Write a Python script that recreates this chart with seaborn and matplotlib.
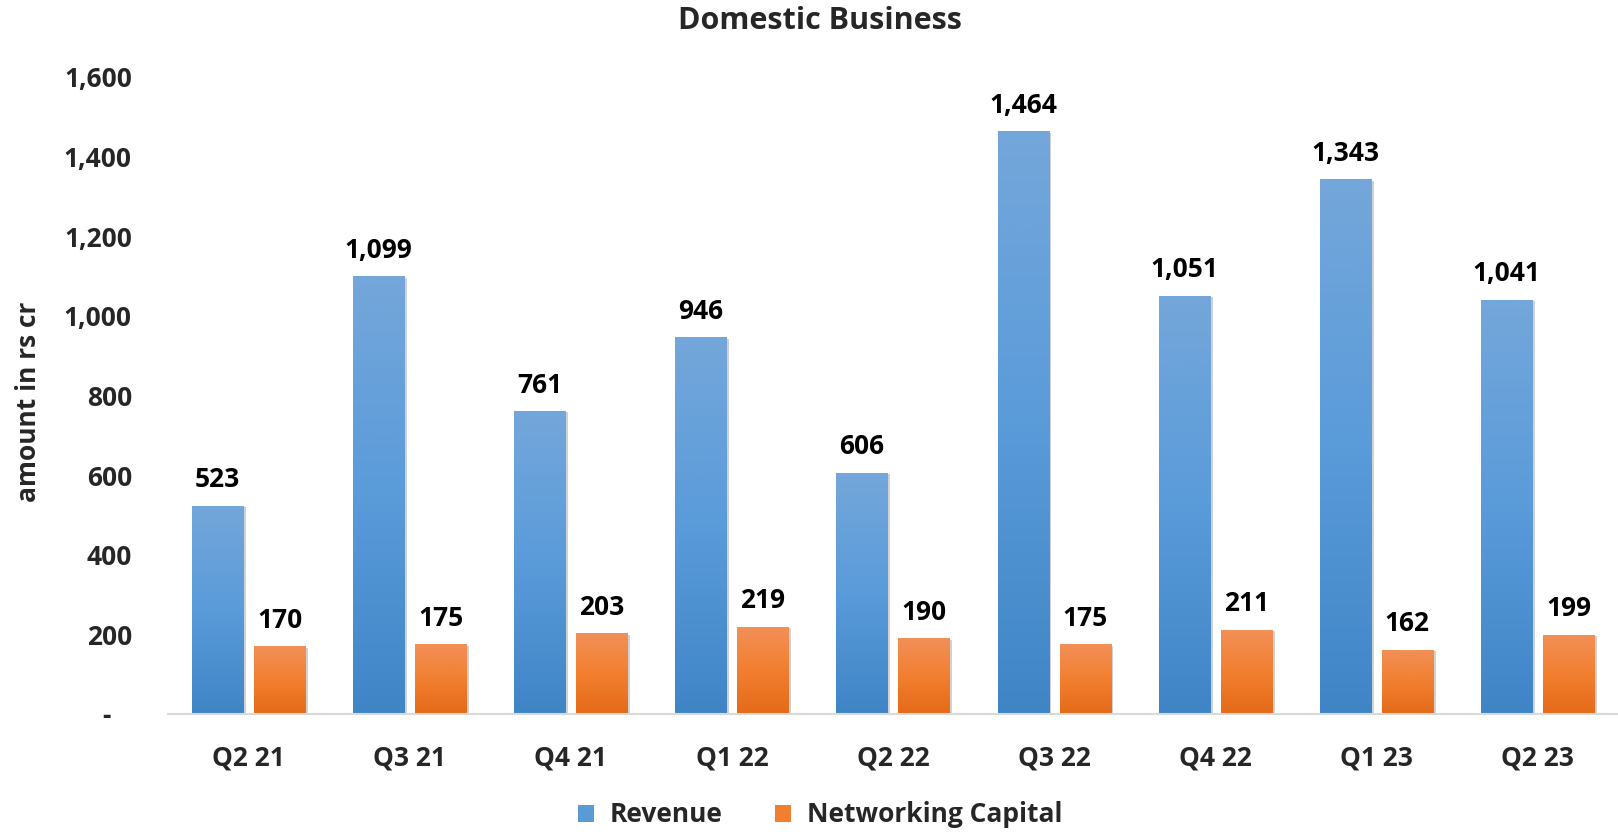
import numpy as np
import pandas as pd
import matplotlib
matplotlib.use("Agg")
import matplotlib.pyplot as plt
import seaborn as sns
from matplotlib.colors import LinearSegmentedColormap
from matplotlib.patches import Patch
import matplotlib.patheffects as pe

# ---------------- data ----------------
quarters = ["Q2 21", "Q3 21", "Q4 21", "Q1 22", "Q2 22", "Q3 22", "Q4 22", "Q1 23", "Q2 23"]
revenue = [523, 1099, 761, 946, 606, 1464, 1051, 1343, 1041]
networking_capital = [170, 175, 203, 219, 190, 175, 211, 162, 199]
series_names = ["Revenue", "Networking Capital"]
yticks = [0, 200, 400, 600, 800, 1000, 1200, 1400, 1600]
ytick_labels = ["-   ", "200", "400", "600", "800", "1,000", "1,200", "1,400", "1,600"]

# ---------------- style ----------------
sns.set_theme(style="white")
plt.rcParams['font.family'] = ['Open Sans', 'DejaVu Sans']
plt.rcParams['font.weight'] = 'bold'
FS = 19
TITLE_FS = 22

blue_mid = "#5B9BD5"
orange_mid = "#F07F2F"
blue_cmap = LinearSegmentedColormap.from_list("b", ["#3F85C6", "#5A9BDA", "#74A7DA"])
orange_cmap = LinearSegmentedColormap.from_list("o", ["#E46A17", "#F27F30", "#F29058"])

df = pd.DataFrame({
    "Quarter": quarters + quarters,
    "Series": [series_names[0]] * len(quarters) + [series_names[1]] * len(quarters),
    "Value": revenue + networking_capital,
})

W, H = 1618, 834
fig = plt.figure(figsize=(W / 100, H / 100), dpi=100)
ax = fig.add_axes([168 / W, 1 - 714 / H, 1 - 168 / W, (714 - 77) / H])

sns.barplot(data=df, x="Quarter", y="Value", hue="Series", order=quarters,
            hue_order=series_names, palette=[blue_mid, orange_mid],
            width=0.77, gap=0.177, saturation=1, legend=False, ax=ax)

# gradient fill + soft shadow for each bar
grad = np.linspace(0, 1, 256).reshape(-1, 1)
for cont, cmap, vals in zip(ax.containers, [blue_cmap, orange_cmap], [revenue, networking_capital]):
    for p in cont.patches:
        p.set_edgecolor("none")
        p.set_path_effects([pe.SimplePatchShadow(offset=(2, -1), shadow_rgbFace="#000000", alpha=0.18),
                            pe.Normal()])
        x0, y0, w, h = p.get_x(), p.get_y(), p.get_width(), p.get_height()
        im = ax.imshow(grad, extent=[x0, x0 + w, y0, y0 + h], origin="lower",
                       cmap=cmap, aspect="auto", zorder=p.get_zorder() + 0.1,
                       interpolation="bilinear")
        im.set_clip_path(p)
    ax.bar_label(cont, labels=[f"{v:,}" for v in vals], padding=9,
                 fontsize=FS, fontweight="bold", color="black")

ax.set_xlim(-0.5, len(quarters) - 0.5)
ax.set_ylim(0, 1600)
ax.set_yticks(yticks)
ax.set_yticklabels(ytick_labels)
ax.tick_params(axis="y", length=0, pad=26, labelsize=FS)
ax.tick_params(axis="x", length=0, pad=22, labelsize=FS)
for lab in ax.get_xticklabels() + ax.get_yticklabels():
    lab.set_fontweight("bold")
ax.set_xlabel("")
ax.set_ylabel("")
for s in ["top", "right", "left"]:
    ax.spines[s].set_visible(False)
ax.spines["bottom"].set_color("#D9D9D9")
ax.spines["bottom"].set_linewidth(1.5)
ax.grid(False)

fig.text(820 / W, 1 - 21 / H, "Domestic Business", ha="center", va="center",
         fontsize=TITLE_FS, fontweight="bold")
fig.text(29 / W, 1 - 402 / H, "amount in rs cr", ha="center", va="center",
         rotation=90, fontsize=FS, fontweight="bold")

handles = [Patch(facecolor=blue_mid, edgecolor="none", label=series_names[0]),
           Patch(facecolor=orange_mid, edgecolor="none", label=series_names[1])]
leg = fig.legend(handles=handles, loc="center", bbox_to_anchor=(820 / W, 1 - 815 / H),
                 ncol=2, frameon=False, handlelength=0.6, handleheight=0.6,
                 handletextpad=0.6, columnspacing=2.0, fontsize=FS)
for t in leg.get_texts():
    t.set_fontweight("bold")

fig.savefig("out.png", dpi=100, facecolor="white")
